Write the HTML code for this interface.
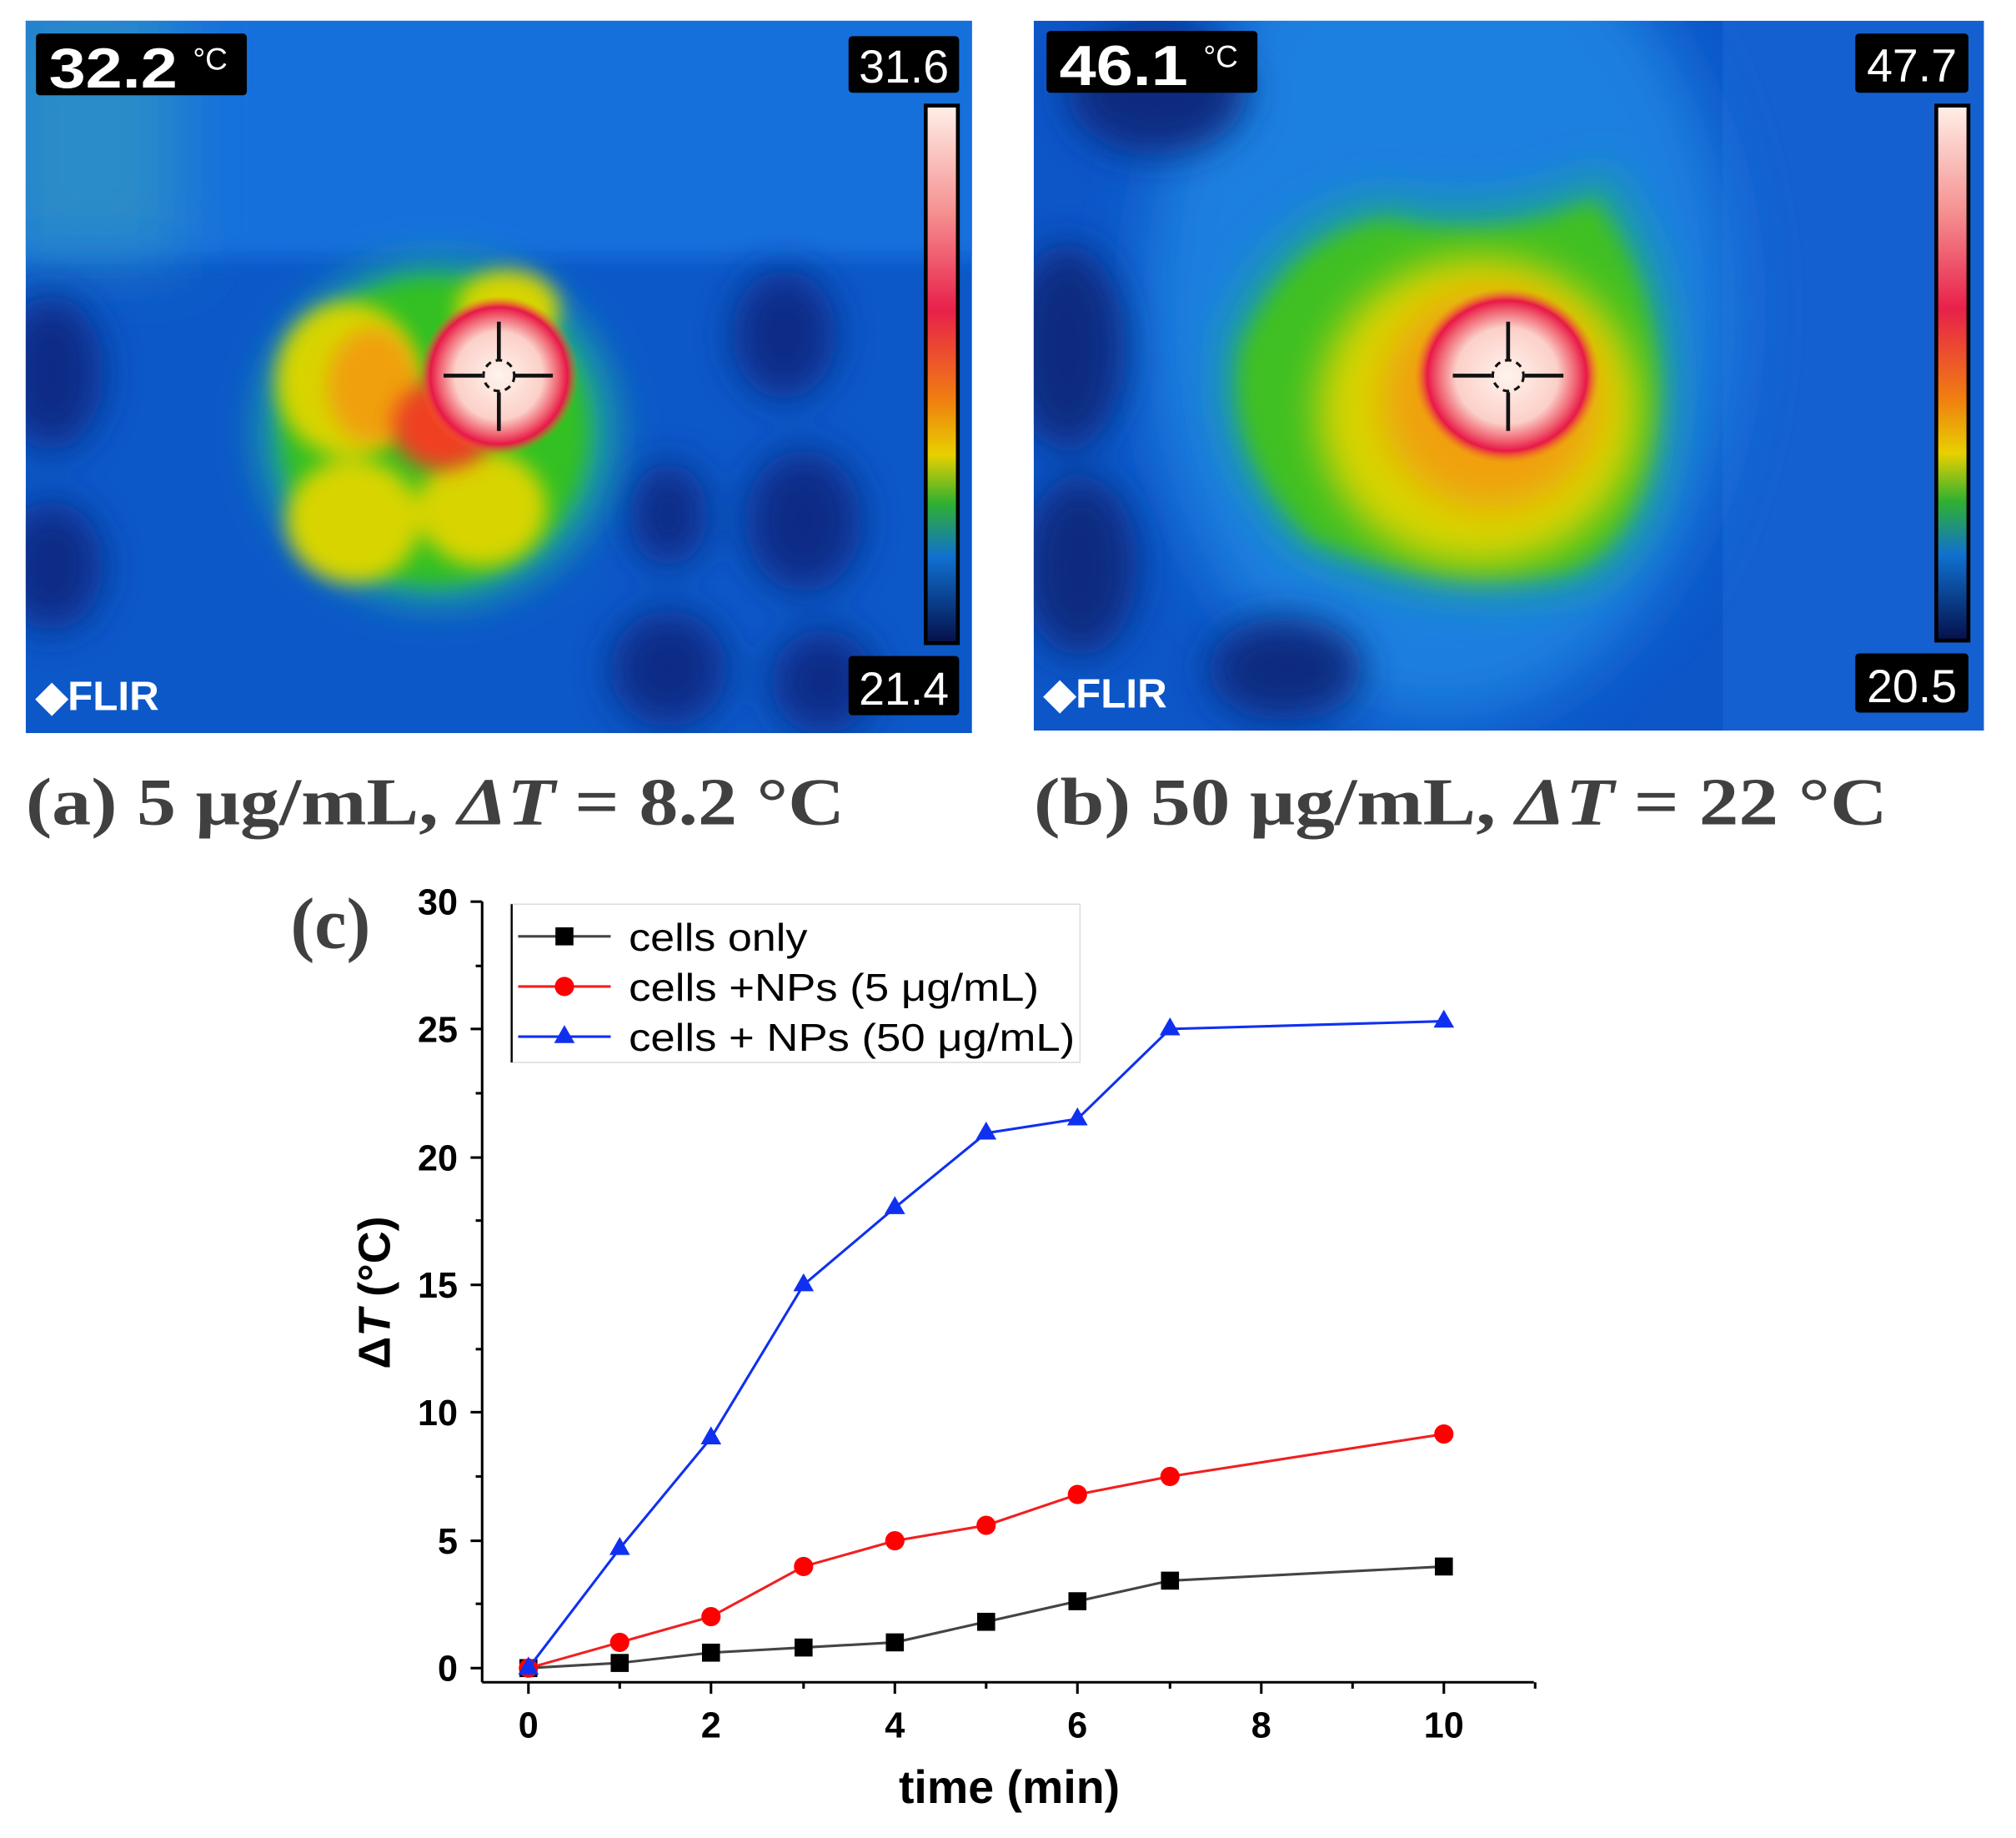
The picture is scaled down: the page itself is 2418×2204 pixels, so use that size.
<!DOCTYPE html>
<html><head><meta charset="utf-8"><style>
html,body{margin:0;padding:0;background:#fff}
svg{display:block}
</style></head><body>
<svg width="2418" height="2204" viewBox="0 0 1568 1429" xmlns="http://www.w3.org/2000/svg">
<defs>
<filter id="b8" x="-50%" y="-50%" width="200%" height="200%"><feGaussianBlur stdDeviation="8"/></filter>
<filter id="b15" x="-50%" y="-50%" width="200%" height="200%"><feGaussianBlur stdDeviation="15"/></filter>
<filter id="b25" x="-50%" y="-50%" width="200%" height="200%"><feGaussianBlur stdDeviation="25"/></filter>
<linearGradient id="cb" x1="0" y1="0" x2="0" y2="1">
<stop offset="0" stop-color="#fff0e8"/><stop offset="0.2" stop-color="#f59090"/><stop offset="0.38" stop-color="#e8204a"/><stop offset="0.55" stop-color="#f08010"/><stop offset="0.65" stop-color="#e8d000"/><stop offset="0.74" stop-color="#30b030"/><stop offset="0.84" stop-color="#1070d0"/><stop offset="1" stop-color="#05104a"/>
</linearGradient>
<radialGradient id="hot"><stop offset="0" stop-color="#fff4ee"/><stop offset="0.55" stop-color="#fbd0c8"/><stop offset="0.75" stop-color="#f06070"/><stop offset="0.86" stop-color="#e81848"/><stop offset="1" stop-color="#f07030" stop-opacity="0"/></radialGradient>
<clipPath id="ca"><rect x="20" y="16" width="736" height="554"/></clipPath>
<clipPath id="cbp"><rect x="804" y="16" width="739" height="552"/></clipPath>
</defs>

<!-- Panel a -->
<g clip-path="url(#ca)">
<rect x="20" y="16" width="736" height="554" fill="#0c58c8"/>
<rect x="0" y="0" width="780" height="200" fill="#1570dc" filter="url(#b8)"/>
<rect x="0" y="0" width="140" height="200" fill="#2a8cc8" filter="url(#b25)"/>
<g fill="#0a2a86" filter="url(#b15)">
<ellipse cx="40" cy="290" rx="40" ry="60"/><ellipse cx="40" cy="440" rx="40" ry="50"/>
<ellipse cx="610" cy="260" rx="40" ry="50"/><ellipse cx="625" cy="405" rx="45" ry="55"/>
<ellipse cx="520" cy="520" rx="45" ry="45"/><ellipse cx="640" cy="530" rx="40" ry="40"/>
<ellipse cx="520" cy="400" rx="30" ry="40"/>
</g>
<ellipse cx="340" cy="335" rx="140" ry="135" fill="#1aa0a0" filter="url(#b15)"/>
<ellipse cx="338" cy="335" rx="120" ry="120" fill="#30c020" filter="url(#b8)"/>
<g fill="#d8d400" filter="url(#b8)">
<ellipse cx="270" cy="295" rx="55" ry="60"/><ellipse cx="275" cy="405" rx="52" ry="48"/><ellipse cx="375" cy="395" rx="50" ry="45"/><ellipse cx="395" cy="240" rx="40" ry="30"/>
</g>
<ellipse cx="290" cy="300" rx="35" ry="45" fill="#f0a010" filter="url(#b8)"/>
<ellipse cx="345" cy="330" rx="40" ry="35" fill="#f04020" filter="url(#b8)"/>
<ellipse cx="388" cy="292" rx="62" ry="62" fill="url(#hot)"/>
<g stroke="#111" stroke-width="3"><line x1="388" y1="250" x2="388" y2="280"/><line x1="388" y1="305" x2="388" y2="335"/><line x1="345" y1="292" x2="375" y2="292"/><line x1="400" y1="292" x2="430" y2="292"/></g>
<circle cx="388" cy="292" r="12" fill="none" stroke="#111" stroke-width="2" stroke-dasharray="5 4"/>
<rect x="720" y="82" width="25" height="418" fill="url(#cb)" stroke="#000" stroke-width="3"/>
<rect x="28" y="26" width="164" height="48" rx="3" fill="#000"/>
<text x="38" y="68" font-family="Liberation Sans Narrow,Liberation Sans,sans-serif" font-size="44" font-weight="bold" fill="#fff" textLength="100" lengthAdjust="spacingAndGlyphs">32.2</text>
<text x="150" y="54" font-family="Liberation Sans,sans-serif" font-size="24" fill="#fff">°C</text>
<rect x="660" y="28" width="86" height="44" rx="3" fill="#000"/>
<text x="703" y="64" text-anchor="middle" font-family="Liberation Sans Narrow,Liberation Sans,sans-serif" font-size="36" fill="#fff">31.6</text>
<rect x="660" y="510" width="86" height="46" rx="3" fill="#000"/>
<text x="703" y="548" text-anchor="middle" font-family="Liberation Sans Narrow,Liberation Sans,sans-serif" font-size="36" fill="#fff">21.4</text>
<text x="28" y="552" font-family="Liberation Sans,sans-serif" font-size="32" font-weight="bold" fill="#fff">◆FLIR</text>
</g>

<!-- Panel b -->
<g clip-path="url(#cbp)">
<rect x="804" y="16" width="739" height="552" fill="#0c56c8"/>
<rect x="1340" y="16" width="210" height="552" fill="#1460d0"/>
<ellipse cx="1120" cy="240" rx="230" ry="320" fill="#1a80e0" filter="url(#b25)"/>
<g fill="#0a2a80" filter="url(#b15)">
<ellipse cx="830" cy="270" rx="45" ry="80"/><ellipse cx="840" cy="440" rx="45" ry="70"/><ellipse cx="900" cy="70" rx="70" ry="50"/><ellipse cx="1000" cy="520" rx="60" ry="40"/>
</g>
<path d="M950 260 Q990 160 1080 150 Q1160 170 1250 130 Q1305 200 1305 300 Q1305 430 1230 460 Q1120 480 1010 430 Q935 360 950 260Z" fill="#1aa0a0" filter="url(#b15)"/>
<path d="M965 270 Q1005 180 1080 170 Q1160 190 1240 155 Q1290 220 1290 300 Q1285 420 1220 445 Q1120 460 1020 420 Q950 350 965 270Z" fill="#40c020" filter="url(#b8)"/>
<ellipse cx="1150" cy="320" rx="125" ry="120" fill="#d8d400" filter="url(#b15)"/>
<ellipse cx="1160" cy="310" rx="85" ry="85" fill="#f0a010" filter="url(#b15)"/>
<ellipse cx="1172" cy="292" rx="72" ry="68" fill="url(#hot)"/>
<g stroke="#111" stroke-width="3"><line x1="1173" y1="250" x2="1173" y2="280"/><line x1="1173" y1="305" x2="1173" y2="335"/><line x1="1130" y1="292" x2="1160" y2="292"/><line x1="1186" y1="292" x2="1216" y2="292"/></g>
<circle cx="1173" cy="292" r="12" fill="none" stroke="#111" stroke-width="2" stroke-dasharray="5 4"/>
<rect x="1506" y="82" width="25" height="416" fill="url(#cb)" stroke="#000" stroke-width="3"/>
<rect x="814" y="24" width="164" height="48" rx="3" fill="#000"/>
<text x="824" y="66" font-family="Liberation Sans Narrow,Liberation Sans,sans-serif" font-size="44" font-weight="bold" fill="#fff" textLength="100" lengthAdjust="spacingAndGlyphs">46.1</text>
<text x="936" y="52" font-family="Liberation Sans,sans-serif" font-size="24" fill="#fff">°C</text>
<rect x="1443" y="26" width="88" height="46" rx="3" fill="#000"/>
<text x="1487" y="63" text-anchor="middle" font-family="Liberation Sans Narrow,Liberation Sans,sans-serif" font-size="36" fill="#fff">47.7</text>
<rect x="1443" y="508" width="88" height="46" rx="3" fill="#000"/>
<text x="1487" y="546" text-anchor="middle" font-family="Liberation Sans Narrow,Liberation Sans,sans-serif" font-size="36" fill="#fff">20.5</text>
<text x="812" y="550" font-family="Liberation Sans,sans-serif" font-size="32" font-weight="bold" fill="#fff">◆FLIR</text>
</g>

<!-- captions -->
<g font-family="Liberation Serif,serif" font-size="52" font-weight="bold" fill="#404040">
<text x="20" y="641" textLength="637" lengthAdjust="spacingAndGlyphs">(a) 5 μg/mL, <tspan font-style="italic">ΔT</tspan> = 8.2 °C</text>
<text x="804" y="641" textLength="664" lengthAdjust="spacingAndGlyphs">(b) 50 μg/mL, <tspan font-style="italic">ΔT</tspan> = 22 °C</text>
<text x="226" y="737" font-size="56">(c)</text>
</g>

<!-- chart c -->
<g font-family="Liberation Sans,sans-serif">
<g stroke="#000" stroke-width="2" fill="none">
<line x1="375" y1="701" x2="375" y2="1308"/>
<line x1="375" y1="1308" x2="1193" y2="1308"/>
</g>
<g stroke="#000" stroke-width="2">
<line x1="366" y1="1297" x2="375" y2="1297"/><line x1="366" y1="1198" x2="375" y2="1198"/><line x1="366" y1="1098" x2="375" y2="1098"/><line x1="366" y1="999" x2="375" y2="999"/><line x1="366" y1="900" x2="375" y2="900"/><line x1="366" y1="800" x2="375" y2="800"/><line x1="366" y1="701" x2="375" y2="701"/>
<line x1="370" y1="1247" x2="375" y2="1247"/><line x1="370" y1="1148" x2="375" y2="1148"/><line x1="370" y1="1049" x2="375" y2="1049"/><line x1="370" y1="949" x2="375" y2="949"/><line x1="370" y1="850" x2="375" y2="850"/><line x1="370" y1="751" x2="375" y2="751"/>
<line x1="411" y1="1308" x2="411" y2="1317"/><line x1="553" y1="1308" x2="553" y2="1317"/><line x1="696" y1="1308" x2="696" y2="1317"/><line x1="838" y1="1308" x2="838" y2="1317"/><line x1="981" y1="1308" x2="981" y2="1317"/><line x1="1123" y1="1308" x2="1123" y2="1317"/>
<line x1="482" y1="1308" x2="482" y2="1313"/><line x1="625" y1="1308" x2="625" y2="1313"/><line x1="767" y1="1308" x2="767" y2="1313"/><line x1="910" y1="1308" x2="910" y2="1313"/><line x1="1052" y1="1308" x2="1052" y2="1313"/><line x1="1194" y1="1308" x2="1194" y2="1313"/>
</g>
<g font-size="28" font-weight="bold" text-anchor="end" fill="#000">
<text x="356" y="1307">0</text><text x="356" y="1208">5</text><text x="356" y="1108">10</text><text x="356" y="1009">15</text><text x="356" y="910">20</text><text x="356" y="810">25</text><text x="356" y="711">30</text>
</g>
<g font-size="28" font-weight="bold" text-anchor="middle" fill="#000">
<text x="411" y="1351">0</text><text x="553" y="1351">2</text><text x="696" y="1351">4</text><text x="838" y="1351">6</text><text x="981" y="1351">8</text><text x="1123" y="1351">10</text>
</g>
<text x="785" y="1402" font-size="36" font-weight="bold" text-anchor="middle">time (min)</text>
<text transform="translate(303,1005) rotate(-90)" font-size="35" font-weight="bold" text-anchor="middle">Δ<tspan font-style="italic">T</tspan> (°C)</text>

<!-- series -->
<polyline fill="none" stroke="#444" stroke-width="2" points="411,1297 482,1293 553,1285 625,1281 696,1277 767,1261 838,1245 910,1229 1123,1218"/>
<g fill="#000">
<rect x="404" y="1290" width="14" height="14"/><rect x="475" y="1286" width="14" height="14"/><rect x="546" y="1278" width="14" height="14"/><rect x="618" y="1274" width="14" height="14"/><rect x="689" y="1270" width="14" height="14"/><rect x="760" y="1254" width="14" height="14"/><rect x="831" y="1238" width="14" height="14"/><rect x="903" y="1222" width="14" height="14"/><rect x="1116" y="1211" width="14" height="14"/>
</g>
<polyline fill="none" stroke="#f02020" stroke-width="2" points="411,1297 482,1277 553,1257 625,1218 696,1198 767,1186 838,1162 910,1148 1123,1115"/>
<g fill="#f00">
<circle cx="411" cy="1297" r="7.5"/><circle cx="482" cy="1277" r="7.5"/><circle cx="553" cy="1257" r="7.5"/><circle cx="625" cy="1218" r="7.5"/><circle cx="696" cy="1198" r="7.5"/><circle cx="767" cy="1186" r="7.5"/><circle cx="838" cy="1162" r="7.5"/><circle cx="910" cy="1148" r="7.5"/><circle cx="1123" cy="1115" r="7.5"/>
</g>
<polyline fill="none" stroke="#1030f0" stroke-width="2" points="411,1297 482,1204 553,1118 625,999 696,939 767,881 838,870 910,800 1123,794"/>
<g fill="#1030f0">
<path d="M411,1288 l8,14 h-16z"/><path d="M482,1195 l8,14 h-16z"/><path d="M553,1109 l8,14 h-16z"/><path d="M625,990 l8,14 h-16z"/><path d="M696,930 l8,14 h-16z"/><path d="M767,872 l8,14 h-16z"/><path d="M838,861 l8,14 h-16z"/><path d="M910,791 l8,14 h-16z"/><path d="M1123,785 l8,14 h-16z"/>
</g>

<!-- legend -->
<rect x="397" y="703" width="443" height="123" fill="#fff" stroke="#ddd" stroke-width="1"/>
<line x1="398" y1="703" x2="398" y2="826" stroke="#000" stroke-width="1.5"/>
<line x1="403" y1="728" x2="475" y2="728" stroke="#444" stroke-width="2"/><rect x="432" y="721" width="14" height="14" fill="#000"/>
<line x1="403" y1="767" x2="475" y2="767" stroke="#f02020" stroke-width="2"/><circle cx="439" cy="767" r="7.5" fill="#f00"/>
<line x1="403" y1="806" x2="475" y2="806" stroke="#1030f0" stroke-width="2"/><path d="M439,797 l8,14 h-16z" fill="#1030f0"/>
<g font-size="30" fill="#000">
<text x="489" y="739" textLength="139" lengthAdjust="spacingAndGlyphs">cells only</text>
<text x="489" y="778" textLength="319" lengthAdjust="spacingAndGlyphs">cells +NPs (5 μg/mL)</text>
<text x="489" y="817" textLength="347" lengthAdjust="spacingAndGlyphs">cells + NPs (50 μg/mL)</text>
</g>
</g>
</svg>
</body></html>
